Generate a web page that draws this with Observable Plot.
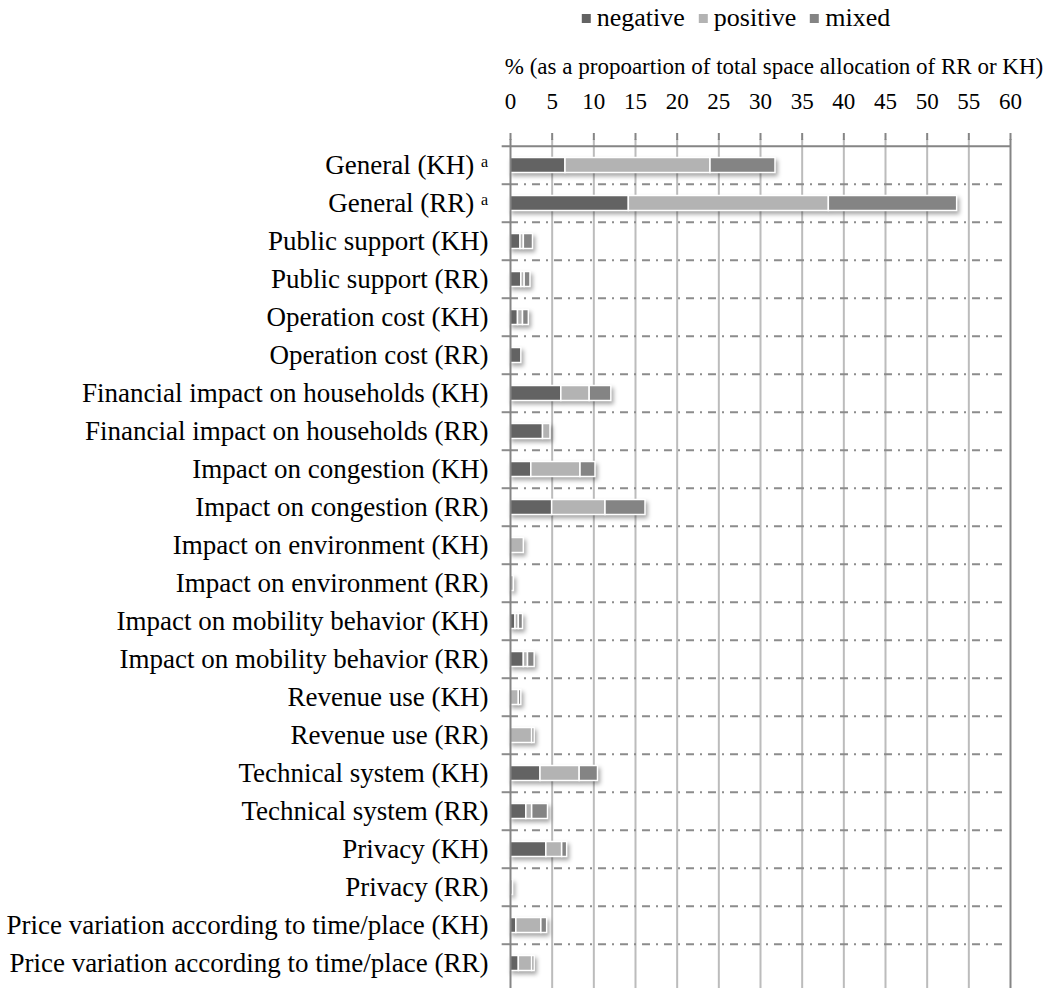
<!DOCTYPE html>
<html><head><meta charset="utf-8">
<script src="https://cdn.jsdelivr.net/npm/d3@7"></script>
<script src="https://cdn.jsdelivr.net/npm/@observablehq/plot@0.6"></script>
<style>
body{margin:0;background:#fff;font-family:"Liberation Serif","Times New Roman",serif;}
#wrap{position:relative;width:1047px;height:988px;overflow:hidden;}
#legend{position:absolute;top:3px;left:736px;transform:translateX(-50%);font-size:26px;display:flex;align-items:center;white-space:nowrap;color:#000;}
#legend .item{display:flex;align-items:center;margin:0 7px;}
#legend .sw{display:inline-block;width:9px;height:9px;margin-right:6px;}
#title{position:absolute;top:54px;left:774px;transform:translateX(-50%);font-size:23px;white-space:nowrap;color:#000;}
</style></head><body>
<div id="wrap"><div id="chart"></div><div id="legend"></div><div id="title"></div></div>
<script>
const categories = [
  "General (KH)", "General (RR)",
  "Public support (KH)", "Public support (RR)",
  "Operation cost (KH)", "Operation cost (RR)",
  "Financial impact on households (KH)", "Financial impact on households (RR)",
  "Impact on congestion (KH)", "Impact on congestion (RR)",
  "Impact on environment (KH)", "Impact on environment (RR)",
  "Impact on mobility behavior (KH)", "Impact on mobility behavior (RR)",
  "Revenue use (KH)", "Revenue use (RR)",
  "Technical system (KH)", "Technical system (RR)",
  "Privacy (KH)", "Privacy (RR)",
  "Price variation according to time/place (KH)", "Price variation according to time/place (RR)"
];
const negative = [6.6, 14.2, 1.2, 1.3, 0.9, 1.3, 6.1, 3.9, 2.5, 5.0, 0, 0, 0.6, 1.6, 0, 0, 3.6, 1.9, 4.3, 0, 0.7, 1.0];
const positive = [17.4, 24.0, 0.4, 0.4, 0.6, 0, 3.4, 0.9, 5.9, 6.4, 1.6, 0.4, 0.4, 0.5, 1.0, 2.6, 4.7, 0.7, 1.9, 0.3, 3.0, 1.6];
const mixed    = [7.8, 15.4, 1.1, 0.7, 0.7, 0, 2.6, 0, 1.8, 4.8, 0, 0, 0.5, 0.8, 0.3, 0.3, 2.2, 1.9, 0.6, 0, 0.7, 0.3];
const sentiments = ["negative", "positive", "mixed"];
const colors = ["#636363", "#b3b3b3", "#848484"];
const xTicks = d3.range(0, 61, 5);
const superscripted = ["General (KH)", "General (RR)"];
const axisTitle = "% (as a propoartion of total space allocation of RR or KH)";

const series = [negative, positive, mixed];
const rows = categories.flatMap((c, i) =>
  sentiments.map((s, j) => ({category: c, sentiment: s, value: series[j][i]}))
).filter(d => d.value > 0);

const W = 1047, H = 988, mt = 139, ml = 510, mr = 37;
const step = (H - mt) / categories.length;
const font = "'Liberation Serif', 'Times New Roman', serif";

const chart = Plot.plot({
  width: W, height: H,
  marginTop: mt, marginLeft: ml, marginRight: mr, marginBottom: 0,
  style: {fontFamily: font, fontSize: "24px", color: "#000", background: "#fff", overflow: "visible"},
  x: {domain: [0, 60]},
  y: {domain: categories, padding: 0},
  color: {domain: sentiments, range: colors},
  marks: [
    Plot.ruleX(xTicks.filter(t => t > 0 && t < 60), {stroke: "#bcbcbc", strokeWidth: 2}),
    Plot.ruleY(categories.slice(1), {dy: -step / 2, stroke: "#8c8c8c", strokeWidth: 2, strokeDasharray: "8,6,2,6", insetRight: 7}),
    Plot.ruleY(categories.slice(1), {dy: -step / 2, x1: -1, x2: 0, stroke: "#8c8c8c", strokeWidth: 2}),
    Plot.ruleY([categories[0]], {dy: -step / 2, x1: -1, x2: 60, stroke: "#858585", strokeWidth: 2}),
    Plot.barX(rows, {y: "category", x: "value", fill: "sentiment", stroke: "white", strokeWidth: 1.5, insetTop: 11.5, insetBottom: 11.5}),
    Plot.ruleX([0, 60], {stroke: "#858585", strokeWidth: 2}),
    Plot.axisX({anchor: "top", ticks: xTicks, tickSize: 7, tickPadding: 24, stroke: "#858585", strokeWidth: 2, fill: "#000", fontSize: 23, label: null}),
    Plot.axisY({tickSize: 0, tickPadding: 22, fontSize: 27, fill: "#000", label: null,
      tickFormat: d => superscripted.includes(d) ? d + " ᵃ" : d})
  ]
});
chart.querySelectorAll('g[aria-label="bar"]').forEach(g => {
  g.style.filter = "drop-shadow(2px 3px 2px rgba(0,0,0,0.35))";
});
document.getElementById("chart").appendChild(chart);

const legend = document.getElementById("legend");
sentiments.forEach((s, i) => {
  const item = document.createElement("span");
  item.className = "item";
  const sw = document.createElement("span");
  sw.className = "sw";
  sw.style.background = colors[i];
  item.appendChild(sw);
  item.appendChild(document.createTextNode(s));
  legend.appendChild(item);
});
document.getElementById("title").textContent = axisTitle;
</script>
</body></html>
